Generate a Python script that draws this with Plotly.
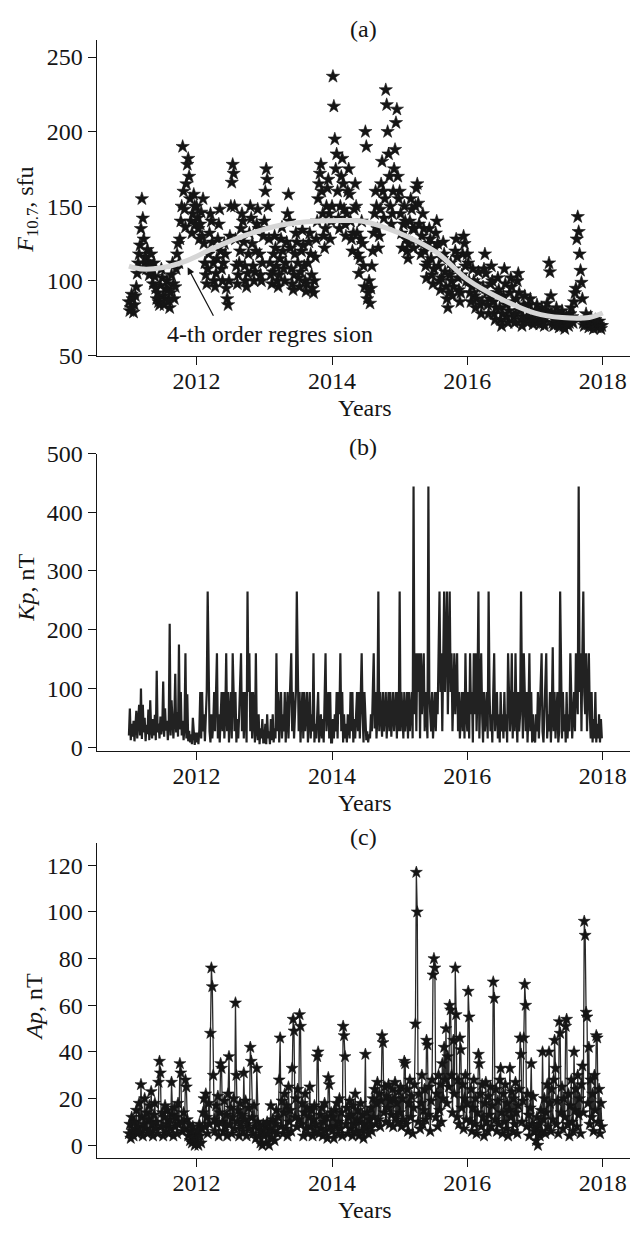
import pandas as pd
import plotly.graph_objects as go

# ---------------- data (5-day samples) ----------------
years = [2011, 2012, 2013, 2014, 2015, 2016, 2017]

f107_2011 = [86, 80, 82, 91, 88, 79, 84, 90, 96, 105, 112, 118, 124, 135, 155,
             142, 128, 112, 116, 108, 121, 113, 104, 110, 118, 107, 98, 112, 103, 95,
             88, 92, 86, 84, 97, 108, 102, 90, 84, 88, 95, 100, 94, 87, 82,
             92, 104, 112, 98, 88, 96, 108, 118, 125, 112, 128, 140, 150, 190,
             160, 148, 136, 165, 178, 182, 170, 155, 140, 132, 145, 158, 150, 138]
f107_2012 = [150, 142, 135, 128, 138, 146, 130, 155, 125, 112, 104, 98, 108, 118, 132,
             145, 140, 126, 112, 100, 96, 105, 115, 128, 138, 148, 120, 108, 100, 112,
             125, 118, 95, 88, 84, 100, 130, 150, 166, 178, 172, 150, 128, 110, 98,
             104, 112, 120, 135, 145, 140, 126, 110, 100, 96, 105, 118, 132, 150,
             142, 125, 110, 100, 106, 120, 138, 148, 135, 118, 104, 100, 112, 130]
f107_2013 = [140, 160, 175, 168, 150, 128, 112, 104, 98, 106, 118, 130, 122, 110, 100,
             96, 104, 115, 128, 136, 120, 108, 100, 112, 126, 145, 158, 140, 122, 108,
             98, 94, 104, 118, 132, 126, 112, 102, 96, 106, 120, 134, 124, 110, 100,
             93, 98, 112, 126, 132, 118, 104, 95, 92, 100, 116, 128, 140, 155,
             165, 172, 178, 160, 145, 130, 122, 135, 150, 162, 168, 145, 128, 140]
f107_2014 = [150, 237, 217, 195, 175, 185, 160, 142, 135, 150, 170, 182, 165, 148, 138,
             130, 145, 160, 175, 158, 140, 128, 120, 132, 148, 165, 150, 132, 118, 105,
             115, 128, 140, 125, 110, 96, 200, 190, 88, 92, 100, 85, 95, 110, 120,
             132, 145, 160, 150, 135, 122, 130, 148, 165, 180, 160, 142, 155, 228,
             218, 200, 185, 170, 150, 138, 145, 160, 175, 188, 206, 215, 170, 155]
f107_2015 = [160, 145, 132, 122, 138, 150, 140, 128, 120, 115, 125, 140, 155, 148, 135,
             122, 135, 150, 162, 165, 152, 138, 125, 118, 130, 145, 135, 120, 110, 102,
             112, 125, 135, 128, 115, 104, 98, 108, 122, 132, 140, 125, 110, 100, 94,
             102, 115, 126, 118, 106, 96, 88, 82, 92, 104, 112, 100, 90, 96,
             108, 120, 128, 116, 102, 94, 86, 92, 104, 118, 130, 125, 110, 100]
f107_2016 = [118, 112, 100, 92, 86, 96, 108, 100, 90, 82, 88, 98, 106, 95, 84,
             78, 86, 96, 108, 118, 105, 92, 84, 78, 88, 98, 110, 100, 86, 78,
             74, 82, 92, 102, 94, 82, 74, 70, 78, 90, 108, 98, 84, 76, 72,
             80, 92, 102, 96, 86, 76, 72, 78, 88, 100, 105, 92, 80, 74,
             70, 76, 84, 90, 82, 75, 72, 76, 84, 88, 80, 74, 71, 73]
f107_2017 = [74, 78, 84, 80, 73, 71, 76, 82, 78, 72, 70, 75, 80, 85, 79,
             112, 106, 90, 78, 72, 70, 74, 78, 82, 76, 71, 69, 73, 77, 80,
             75, 70, 68, 72, 76, 74, 70, 72, 78, 82, 76, 72, 86, 92, 95,
             128, 143, 133, 118, 107, 99, 88, 72, 70, 74, 78, 75, 71, 69,
             72, 76, 73, 70, 68, 71, 74, 72, 69, 71, 73, 70, 68, 70]

kp_2011 = [20, 66, 12, 40, 18, 45, 10, 30, 62, 15,
           48, 72, 20, 100, 14, 72, 25, 50, 10, 38,
           22, 64, 12, 80, 30, 15, 48, 20, 55, 12,
           130, 25, 40, 15, 52, 22, 35, 112, 18, 66,
           28, 45, 12, 40, 210, 20, 80, 30, 15, 48,
           125, 25, 60, 18, 175, 30, 94, 20, 45, 12,
           35, 160, 15, 90, 10, 28, 8, 22, 5, 50,
           12, 4, 25]
kp_2012 = [8, 25, 5, 30, 94, 15, 94, 27, 56, 10,
           48, 94, 265, 160, 27, 8, 56, 15, 40, 94,
           27, 94, 160, 15, 56, 8, 39, 94, 27, 94,
           15, 56, 160, 27, 94, 8, 56, 94, 15, 160,
           94, 27, 94, 8, 48, 15, 56, 94, 160, 27,
           94, 15, 94, 56, 8, 265, 94, 160, 27, 94,
           15, 94, 56, 8, 160, 27, 12, 56, 5, 32,
           15, 48, 8]
kp_2013 = [8, 40, 5, 56, 15, 27, 5, 48, 12, 56,
           8, 32, 15, 160, 27, 94, 8, 56, 94, 15,
           56, 27, 94, 8, 48, 94, 15, 56, 94, 160,
           27, 94, 15, 56, 94, 265, 160, 27, 94, 8,
           56, 94, 15, 94, 27, 56, 94, 8, 48, 94,
           15, 56, 27, 160, 8, 40, 15, 56, 94, 8,
           27, 56, 15, 48, 8, 94, 160, 27, 56, 94,
           15, 94, 8]
kp_2014 = [8, 48, 15, 56, 27, 94, 15, 94, 56, 160,
           27, 94, 8, 56, 15, 40, 8, 56, 27, 15,
           94, 27, 94, 8, 48, 15, 56, 94, 27, 94,
           15, 94, 160, 56, 8, 94, 27, 12, 27, 8,
           22, 15, 56, 27, 94, 160, 32, 94, 15, 56,
           265, 27, 94, 56, 18, 94, 27, 56, 94, 15,
           56, 94, 27, 94, 18, 56, 94, 27, 56, 94,
           15, 94, 27]
kp_2015 = [265, 27, 94, 56, 15, 94, 27, 56, 94, 15,
           94, 27, 56, 94, 15, 444, 56, 160, 27, 160,
           94, 160, 15, 160, 56, 94, 160, 27, 94, 56,
           15, 444, 94, 56, 27, 94, 15, 56, 94, 27,
           94, 56, 160, 265, 94, 160, 27, 160, 265, 94,
           160, 265, 56, 160, 265, 94, 160, 27, 94, 160,
           56, 94, 160, 27, 94, 15, 56, 94, 27, 94,
           15, 160, 56]
kp_2016 = [27, 94, 15, 160, 56, 94, 8, 160, 56, 160,
           27, 94, 265, 15, 94, 160, 56, 8, 94, 27,
           56, 94, 15, 265, 94, 27, 56, 8, 94, 160,
           27, 56, 94, 15, 56, 8, 94, 27, 56, 15,
           94, 27, 56, 8, 160, 94, 27, 56, 160, 15,
           94, 27, 160, 56, 8, 94, 27, 56, 265, 94,
           15, 160, 56, 27, 94, 8, 56, 160, 27, 94,
           8, 56, 15]
kp_2017 = [8, 56, 27, 94, 15, 56, 94, 160, 27, 8,
           56, 94, 160, 15, 56, 27, 94, 8, 56, 170,
           27, 94, 15, 56, 94, 8, 27, 265, 56, 15,
           94, 27, 56, 8, 94, 15, 56, 27, 160, 94,
           15, 56, 94, 27, 160, 94, 56, 444, 94, 160,
           27, 160, 265, 94, 56, 160, 27, 94, 160, 56,
           15, 94, 8, 48, 15, 94, 8, 40, 15, 56,
           8, 48, 15]

ap_2011 = [5, 9, 3, 12, 6, 4, 10, 7, 15, 5,
           8, 18, 6, 26, 12, 4, 9, 20, 7, 14,
           5, 11, 17, 6, 23, 9, 4, 13, 18, 7,
           10, 5, 27, 36, 31, 8, 14, 4, 12, 17,
           6, 9, 15, 5, 11, 7, 27, 13, 4, 16,
           8, 12, 5, 18, 9, 35, 31, 10, 6, 14,
           7, 28, 25, 11, 4, 9, 2, 6, 1, 8,
           3, 0, 5]
ap_2012 = [2, 6, 0, 9, 4, 1, 7, 14, 20, 8,
           22, 12, 5, 18, 9, 48, 76, 68, 30, 11,
           6, 17, 9, 21, 4, 14, 35, 33, 10, 6,
           19, 8, 13, 4, 22, 38, 9, 16, 5, 12,
           20, 7, 61, 30, 10, 15, 4, 18, 8, 13,
           6, 31, 11, 19, 4, 9, 16, 7, 42, 36,
           12, 5, 17, 8, 3, 33, 10, 4, 8, 1,
           6, 0, 9]
ap_2013 = [4, 8, 1, 10, 5, 0, 7, 17, 3, 11,
           6, 2, 9, 15, 5, 12, 28, 46, 8, 19,
           5, 14, 22, 7, 17, 4, 25, 10, 15, 6,
           33, 54, 49, 12, 20, 8, 24, 11, 56, 51,
           9, 18, 4, 14, 22, 7, 16, 5, 12, 25,
           8, 15, 4, 11, 17, 6, 9, 38, 40, 5,
           13, 7, 16, 4, 10, 18, 6, 12, 3, 29,
           26, 8, 14]
ap_2014 = [6, 12, 3, 15, 8, 18, 5, 10, 20, 7,
           14, 4, 51, 47, 38, 9, 16, 5, 12, 19,
           7, 13, 4, 17, 9, 22, 6, 11, 15, 4,
           10, 18, 6, 13, 3, 9, 39, 7, 14, 5,
           11, 8, 16, 6, 20, 12, 24, 9, 18, 27,
           11, 22, 8, 19, 47, 44, 14, 25, 10, 21,
           16, 26, 9, 19, 13, 24, 8, 20, 27, 12,
           18, 10, 23]
ap_2015 = [14, 25, 8, 20, 11, 36, 35, 9, 24, 6,
           18, 28, 12, 21, 5, 16, 26, 52, 117, 100,
           10, 22, 7, 18, 30, 9, 15, 24, 11, 45,
           43, 13, 25, 6, 19, 28, 73, 80, 76, 12,
           22, 8, 30, 15, 26, 10, 35, 20, 42, 28,
           50, 18, 38, 25, 60, 58, 30, 14, 45, 22,
           76, 56, 12, 28, 9, 46, 41, 16, 26, 7,
           20, 30, 11]
ap_2016 = [18, 66, 55, 10, 24, 6, 16, 28, 9, 20,
           5, 14, 39, 35, 22, 8, 26, 12, 4, 18,
           27, 10, 6, 21, 13, 25, 8, 17, 70, 63,
           11, 24, 6, 19, 9, 28, 33, 14, 5, 22,
           10, 26, 7, 18, 4, 15, 33, 12, 23, 6,
           20, 9, 27, 14, 5, 17, 24, 46, 39, 10,
           19, 46, 69, 60, 8, 22, 13, 4, 16, 35,
           9, 21, 6]
ap_2017 = [7, 2, 12, 0, 9, 4, 15, 6, 40, 11,
           20, 5, 14, 26, 8, 40, 18, 6, 24, 11,
           28, 45, 33, 9, 19, 5, 53, 48, 14, 25,
           7, 20, 12, 51, 54, 9, 22, 4, 17, 28,
           10, 6, 40, 15, 24, 8, 30, 13, 20, 5,
           26, 34, 14, 96, 90, 57, 55, 18, 42, 9,
           28, 12, 22, 6, 30, 15, 47, 46, 10, 24,
           5, 18, 8]

reg_years = [2011.0, 2011.2, 2011.5, 2011.85, 2012.25, 2012.75, 2013.25, 2013.75,
             2014.2, 2014.45, 2015.0, 2015.55, 2016.0, 2016.5, 2017.0, 2017.4,
             2017.8, 2018.0]
reg_values = [110, 108, 109, 113.5, 122, 131, 137.5, 140,
              140.5, 140, 132, 119, 101, 88, 78.5, 75.5,
              75.5, 78.5]

x_tick_years = [2012, 2014, 2016, 2018]
f_ticks = [50, 100, 150, 200, 250]
kp_ticks = [0, 100, 200, 300, 400, 500]
ap_ticks = [0, 20, 40, 60, 80, 100, 120]

# ---------------- helpers ----------------
def series(lists):
    xs, ys = [], []
    for yr, vals in zip(years, lists):
        d = pd.date_range(f"{yr}-01-01", periods=len(vals), freq="5D")
        xs.extend(d)
        ys.extend(vals)
    return xs, ys

def ydate(yf):
    return pd.Timestamp("2011-01-01") + pd.Timedelta(days=(yf - 2011) * 365.25)

f_x, f_y = series([f107_2011, f107_2012, f107_2013, f107_2014, f107_2015, f107_2016, f107_2017])
k_x, k_y = series([kp_2011, kp_2012, kp_2013, kp_2014, kp_2015, kp_2016, kp_2017])
a_x, a_y = series([ap_2011, ap_2012, ap_2013, ap_2014, ap_2015, ap_2016, ap_2017])
reg_x = [ydate(v) for v in reg_years]

W, H = 638, 1234
FONT = "Liberation Serif"
INK = "#151515"

def px(x):
    return x / W

def py(y):
    return 1 - y / H

fig = go.Figure()
fig.add_trace(go.Scatter(x=f_x, y=f_y, mode="markers",
                         marker=dict(symbol="star", size=10, color=INK,
                                     line=dict(width=0.6, color=INK)),
                         xaxis="x", yaxis="y"))
fig.add_trace(go.Scatter(x=reg_x, y=reg_values, mode="lines",
                         line=dict(color="#d6d6d6", width=5, shape="spline"),
                         xaxis="x", yaxis="y"))
fig.add_trace(go.Scatter(x=k_x, y=k_y, mode="lines",
                         line=dict(color="rgba(15,15,15,0.92)", width=2.2),
                         xaxis="x2", yaxis="y2"))
fig.add_trace(go.Scatter(x=a_x, y=a_y, mode="lines+markers",
                         line=dict(color="#2a2a2a", width=1.3),
                         marker=dict(symbol="star", size=9, color=INK,
                                     line=dict(width=0.6, color=INK)),
                         xaxis="x3", yaxis="y3"))

xrange = [ydate(2010.524), ydate(2018.403)]
tick_dates = [pd.Timestamp(f"{y}-01-01") for y in x_tick_years]
xdomain = [px(96.7), px(630)]

def xax(anchor):
    return dict(type="date", range=xrange, domain=xdomain, anchor=anchor,
                showline=True, linecolor=INK, linewidth=1.2, mirror=False,
                ticks="outside", ticklen=8, tickwidth=1.2, tickcolor=INK,
                ticklabelstandoff=-5,
                tickvals=tick_dates, ticktext=[str(y) for y in x_tick_years],
                tickfont=dict(family=FONT, size=24, color=INK),
                showgrid=False, zeroline=False)

def yax(anchor, dom, rng, tv):
    return dict(domain=dom, range=rng, anchor=anchor,
                showline=True, linecolor=INK, linewidth=1.2,
                ticks="outside", ticklen=8, tickwidth=1.2, tickcolor=INK,
                tickvals=tv, ticktext=[str(t) for t in tv],
                tickfont=dict(family=FONT, size=24, color=INK),
                showgrid=False, zeroline=False)

fig.update_layout(
    width=W, height=H, margin=dict(l=0, r=0, t=0, b=0),
    paper_bgcolor="white", plot_bgcolor="white", showlegend=False,
    xaxis=xax("y"), xaxis2=xax("y2"), xaxis3=xax("y3"),
    yaxis=yax("x", [py(350), py(27.3)], [50, 261.6], f_ticks),
    yaxis2=yax("x2", [py(754), py(450)], [-6.7, 500], kp_ticks),
    yaxis3=yax("x3", [py(1170), py(848)], [-5.6, 129.5], ap_ticks),
)

def label(text, x, y, angle=0, size=24):
    fig.add_annotation(text=text, x=px(x), y=py(y), xref="paper", yref="paper",
                       xanchor="center", yanchor="middle", showarrow=False,
                       textangle=angle, font=dict(family=FONT, size=size, color=INK))

label("(a)", 363, 16)
label("(b)", 363, 443)
label("(c)", 363, 842)
label("Years", 365, 403)
label("Years", 365, 807)
label("Years", 365, 1223)
label("<i>F</i><sub>10.7</sub>, sfu", 27, 201, angle=-90)
label("<i>Kp</i>, nT", 26, 587, angle=-90)
label("<i>Ap</i>, nT", 34, 1015, angle=-90)

fig.add_annotation(text="4-th order regres sion", x=px(165.3), y=py(328),
                   xref="paper", yref="paper", xanchor="left", yanchor="middle",
                   showarrow=False, font=dict(family=FONT, size=24, color=INK))
fig.add_annotation(text="", x=ydate(2011.867), y=109.2, xref="x", yref="y",
                   ax=ydate(2012.26), ay=75.7, axref="x", ayref="y",
                   showarrow=True, arrowhead=2, arrowsize=1.2, arrowwidth=1.2,
                   arrowcolor=INK)

fig.write_html("out.html")
